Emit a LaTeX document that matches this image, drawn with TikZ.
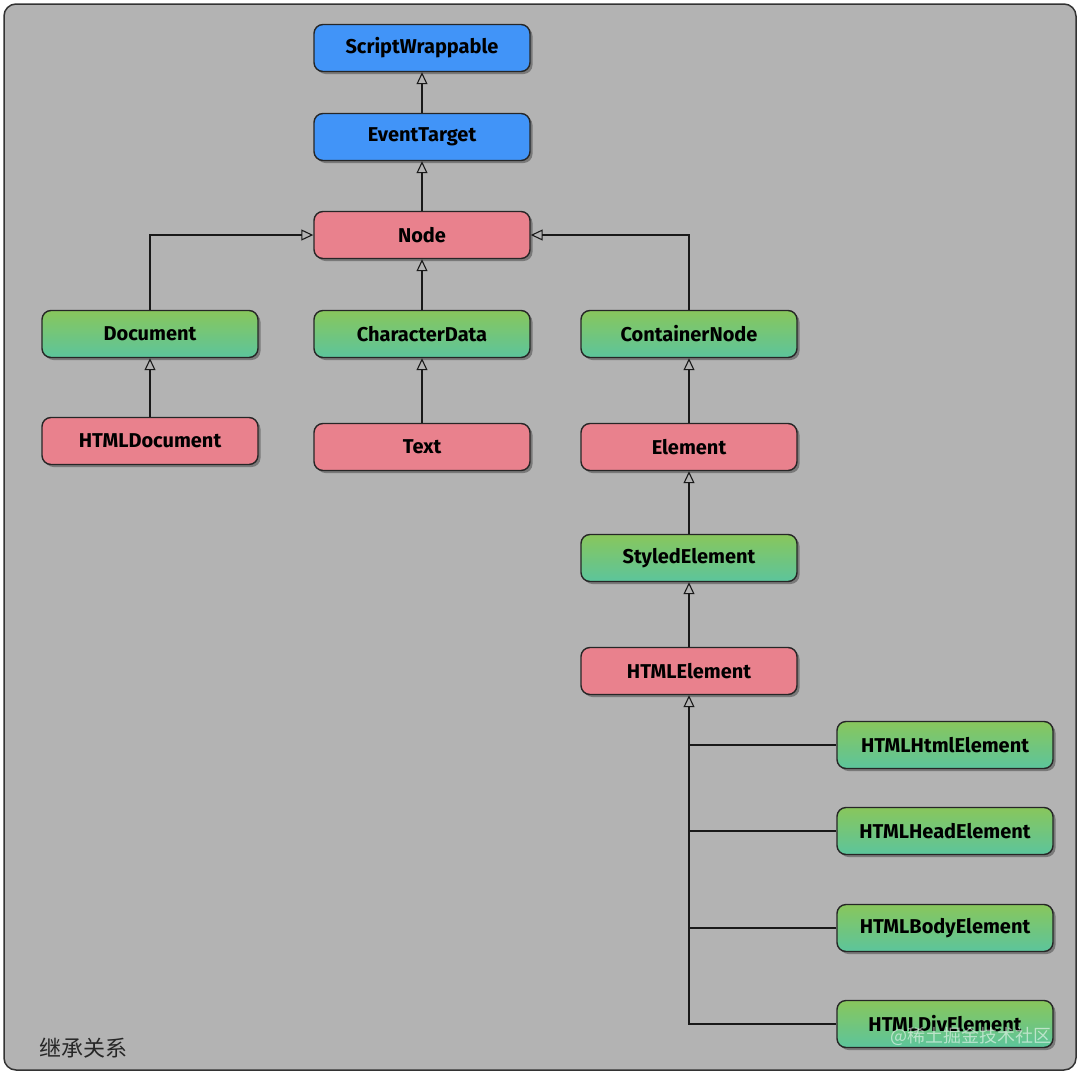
\documentclass[tikz,border=0pt]{standalone}
\usepackage{fontspec}
\setmainfont{Fira Sans}
\newfontfamily\cjk{Noto Sans CJK SC}
\usetikzlibrary{arrows.meta,shadows}
\definecolor{bgray}{HTML}{B3B3B3}
\definecolor{cblue}{HTML}{4194F8}
\definecolor{cpink}{HTML}{E9818D}
\definecolor{gtop}{HTML}{88C65C}
\definecolor{gbot}{HTML}{5CC59C}
\tikzset{
  box/.style={rounded corners=9pt, draw=black!85, line width=1.4pt,
    minimum width=216pt, minimum height=47pt, inner sep=0pt,
    font=\fontsize{20}{23}\selectfont\bfseries,
    drop shadow={shadow xshift=2.5pt, shadow yshift=-2.5pt, opacity=0.45, fill=black!80}},
  bluebox/.style={box, fill=cblue},
  pinkbox/.style={box, fill=cpink},
  greenbox/.style={box, top color=gtop, bottom color=gbot},
  inh/.style={draw=black!90, line width=1.2pt, -{Triangle[open, length=12pt, width=11pt, line width=1.1pt]}},
  conn/.style={draw=black!90, line width=1.2pt}
}
\begin{document}
\begin{tikzpicture}[x=1pt,y=-1pt]
\useasboundingbox (0,0) rectangle (1080,1074);
\draw[fill=bgray, draw=black!80, line width=1.5pt, rounded corners=12pt] (4,4) rectangle (1076,1070);

\node[bluebox] (sw) at (422,48) {ScriptWrappable};
\node[bluebox] (et) at (422,137) {EventTarget};
\node[pinkbox] (node) at (422,235) {Node};
\node[greenbox] (doc) at (150,334) {Document};
\node[greenbox] (cd) at (422,334) {CharacterData};
\node[greenbox] (cn) at (689,334) {ContainerNode};
\node[pinkbox] (hdoc) at (150,441) {HTMLDocument};
\node[pinkbox] (text) at (422,447) {Text};
\node[pinkbox] (el) at (689,447) {Element};
\node[greenbox] (se) at (689,558) {StyledElement};
\node[pinkbox] (he) at (689,671) {HTMLElement};
\node[greenbox] (hh) at (945,745) {HTMLHtmlElement};
\node[greenbox] (hhead) at (945,831) {HTMLHeadElement};
\node[greenbox] (hb) at (945,928) {HTMLBodyElement};
\node[greenbox] (hd) at (945,1024) {HTMLDivElement};

\draw[inh] (et.north) -- (sw.south);
\draw[inh] (node.north) -- (et.south);
\draw[inh] (doc.north) |- (node.west);
\draw[inh] (cd.north) -- (node.south);
\draw[inh] (cn.north) |- (node.east);
\draw[inh] (hdoc.north) -- (doc.south);
\draw[inh] (text.north) -- (cd.south);
\draw[inh] (el.north) -- (cn.south);
\draw[inh] (se.north) -- (el.south);
\draw[inh] (he.north) -- (se.south);
\draw[inh] (hd.west) -| (he.south);
\draw[conn] (hh.west) -- (hh.west -| he.south);
\draw[conn] (hhead.west) -- (hhead.west -| he.south);
\draw[conn] (hb.west) -- (hb.west -| he.south);

\node[font=\cjk\fontsize{22}{26}\selectfont, text=black!85, anchor=west] (cap) at (36,1048) {继承关系};
\node[font=\cjk\fontsize{18}{22}\selectfont, text=white, opacity=0.55, anchor=east] (wm) at (1055,1036) {@稀土掘金技术社区};
\end{tikzpicture}
\end{document}
